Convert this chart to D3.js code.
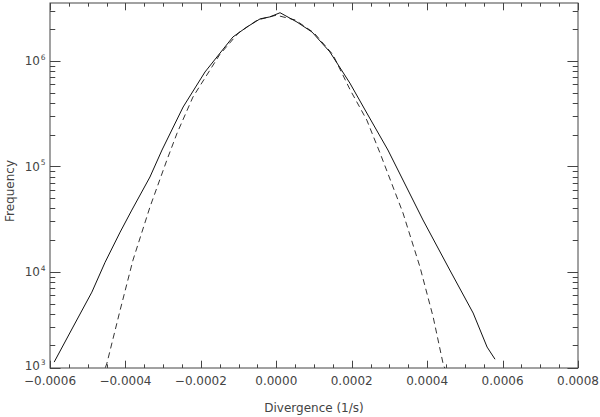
<!DOCTYPE html>
<html>
<head>
<meta charset="utf-8">
<script src="https://cdn.jsdelivr.net/npm/d3@7"></script>
<style>
  html, body { margin: 0; padding: 0; background: #fff; }
  svg { display: block; }
  text { font-family: "DejaVu Sans", sans-serif; fill: #444; }
</style>
</head>
<body>
<svg id="chart" width="600" height="417"></svg>
<script>
// ---- data ----
const observedX = [-0.000589, -0.000539, -0.000489, -0.000454, -0.000414, -0.000383, -0.000335, -0.000303,
  -0.000247, -0.000189, -0.000149, -0.000115, -0.000078, -0.000043, -0.000017, 0.000010, 0.000055,
  0.000095, 0.000142, 0.000195, 0.000240, 0.000296, 0.000389, 0.000460, 0.000522, 0.000559, 0.000580];
const observedY = [1390, 2990, 6410, 12300, 23800, 38500, 79300, 143000,
  366000, 787000, 1190000, 1690000, 2100000, 2510000, 2620000, 2870000, 2340000,
  1880000, 1220000, 618000, 321000, 143000, 31000, 10400, 4060, 1930, 1480];

const gaussX = [-0.000462, -0.000449, -0.000414, -0.000380, -0.000335, -0.000290, -0.000263, -0.000221,
  -0.000150, -0.000100, -0.000050, 0.000000, 0.000050, 0.000100, 0.000150, 0.000196, 0.000240,
  0.000275, 0.000336, 0.000381, 0.000416, 0.000442, 0.000455];
const gaussY = [1000, 1360, 4330, 12900, 41100, 115000, 207000, 455000,
  1150000, 1850000, 2450000, 2720000, 2450000, 1850000, 1150000, 531000, 275000,
  134000, 36100, 11100, 3720, 1360, 1000];

const xDomain = [-0.0006, 0.0008];
const yDomain = [1222, 3.55e6];
const xMajorTicks = [-0.0006, -0.0004, -0.0002, 0.0, 0.0002, 0.0004, 0.0006, 0.0008];
const xTickLabels = ["\u22120.0006", "\u22120.0004", "\u22120.0002", "0.0000", "0.0002", "0.0004", "0.0006", "0.0008"];
const xMinorTicks = d3.range(-0.0006, 0.00080001, 0.00005);
const yMajorTicks = [1e3, 1e4, 1e5, 1e6];
const yTickExponents = ["3", "4", "5", "6"];
const xTitle = "Divergence (1/s)";
const yTitle = "Frequency";

// ---- layout ----
const svg = d3.select("#chart");
const L = 50, T = 3, W = 528, H = 365;
const x = d3.scaleLinear().domain(xDomain).range([L, L + W]);
const y = d3.scaleLog().domain(yDomain).range([T + H, T]).clamp(true);
const yLine = y.copy().clamp(false);

const axisColor = "#444";
const xMajorLen = 0.02 * H, xMinorLen = 0.01 * H;
const yMajorLen = 0.02 * W, yMinorLen = 0.01 * W;

svg.append("clipPath").attr("id", "clip")
  .append("rect").attr("x", L).attr("y", T).attr("width", W).attr("height", H);

// box
svg.append("rect").attr("x", L).attr("y", T).attr("width", W).attr("height", H)
  .attr("fill", "none").attr("stroke", axisColor).attr("stroke-width", 1);

const g = svg.append("g").attr("stroke", axisColor).attr("stroke-width", 1);

// x ticks (bottom & top)
xMinorTicks.forEach(v => {
  const isMajor = xMajorTicks.some(m => Math.abs(m - v) < 1e-9);
  const len = isMajor ? xMajorLen : xMinorLen;
  const px = Math.round(x(v)) + 0.5;
  g.append("line").attr("x1", px).attr("x2", px).attr("y1", T + H).attr("y2", T + H - len);
  g.append("line").attr("x1", px).attr("x2", px).attr("y1", T).attr("y2", T + len);
});

// y minor ticks
const yMinor = [];
for (let e = 3; e <= 6; e++) for (let m = 2; m <= 9; m++) {
  const v = m * Math.pow(10, e);
  if (v > yDomain[0] && v < yDomain[1]) yMinor.push(v);
}
yMinor.forEach(v => {
  const py = Math.round(y(v)) + 0.5;
  g.append("line").attr("x1", L).attr("x2", L + yMinorLen).attr("y1", py).attr("y2", py);
  g.append("line").attr("x1", L + W).attr("x2", L + W - yMinorLen).attr("y1", py).attr("y2", py);
});
yMajorTicks.forEach(v => {
  const py = Math.round(y(v)) + 0.5;
  g.append("line").attr("x1", L).attr("x2", L + yMajorLen).attr("y1", py).attr("y2", py);
  g.append("line").attr("x1", L + W).attr("x2", L + W - yMajorLen).attr("y1", py).attr("y2", py);
});

// x tick labels
svg.append("g").selectAll("text").data(xMajorTicks).join("text")
  .attr("x", d => x(d)).attr("y", 385)
  .attr("text-anchor", "middle").attr("font-size", 12)
  .text((d, i) => xTickLabels[i]);

// y tick labels
const yl = svg.append("g");
yMajorTicks.forEach((v, i) => {
  const dy = (i === 0) ? 2 : 4.3;
  yl.append("text").attr("x", 40).attr("y", y(v) + dy)
    .attr("text-anchor", "end").attr("font-size", 12).text("10");
  yl.append("text").attr("x", 40.8).attr("y", y(v) + dy - 5.5)
    .attr("text-anchor", "start").attr("font-size", 7.5).text(yTickExponents[i]);
});

// titles
svg.append("text").attr("x", L + W / 2).attr("y", 411.5)
  .attr("text-anchor", "middle").attr("font-size", 12).text(xTitle);
svg.append("text").attr("transform", "translate(14," + 191 + ") rotate(-90)")
  .attr("text-anchor", "middle").attr("font-size", 12).text(yTitle);

// lines
const line = d3.line().x(d => x(d[0])).y(d => yLine(d[1]));
const plot = svg.append("g").attr("clip-path", "url(#clip)");
plot.append("path")
  .datum(gaussX.map((v, i) => [v, gaussY[i]]))
  .attr("d", line).attr("fill", "none")
  .attr("stroke", "#333").attr("stroke-width", 1).attr("stroke-dasharray", "6,4");
plot.append("path")
  .datum(observedX.map((v, i) => [v, observedY[i]]))
  .attr("d", line).attr("fill", "none")
  .attr("stroke", "#111").attr("stroke-width", 1);
</script>
</body>
</html>
